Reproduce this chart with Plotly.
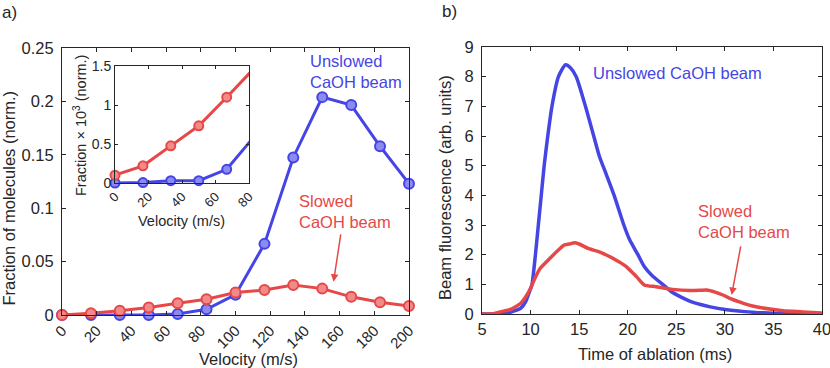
import plotly.graph_objects as go

# ---------------- data ----------------
velocity = [0, 16.7, 33.3, 50, 66.7, 83.3, 100, 116.7, 133.3, 150, 166.7, 183.3, 200]
unslowed_frac = [0, 0, 0, 0, 0.001, 0.0053, 0.019, 0.0666, 0.1475, 0.204, 0.1966, 0.158, 0.123]
slowed_frac = [0, 0.0016, 0.004, 0.007, 0.011, 0.0147, 0.021, 0.0234, 0.028, 0.0247, 0.017, 0.012, 0.0084]

inset_velocity = [0, 16.7, 33.3, 50, 66.7, 83.3]
inset_unslowed = [0.0, 0.005, 0.03, 0.03, 0.176, 0.6]
inset_slowed = [0.1, 0.22, 0.476, 0.733, 1.10, 1.475]

time_unslowed = [5, 6, 7, 8, 8.5, 9, 9.5, 10, 10.15, 10.5, 10.8, 11.1, 11.4, 11.77, 12.2, 12.87,
                 13.6, 14.1, 14.7, 15.65, 16.5, 17.1, 17.8, 18.6, 19.6, 20.2, 21.05, 21.7, 22.5,
                 23.6, 24.5, 25.5, 26.5, 27.5, 28.5, 30, 32, 34, 36, 38, 40]
fluor_unslowed = [0, 0, 0.02, 0.07, 0.12, 0.2, 0.42, 0.85, 1.0, 2.0, 3.0, 4.0, 5.0, 6.0, 7.0, 8.0,
                  8.4, 8.3, 8.0, 7.0, 6.0, 5.3, 4.7, 4.0, 3.0, 2.5, 2.0, 1.6, 1.3,
                  1.0, 0.75, 0.57, 0.42, 0.32, 0.24, 0.15, 0.08, 0.04, 0.02, 0.01, 0]

time_slowed = [5, 6, 7, 8, 8.5, 9, 9.5, 10, 10.5, 11, 12, 13, 13.5, 14, 14.5, 15, 16, 17, 17.8,
               19, 19.85, 20.9, 21.7, 22.9, 24.6, 26.4, 27.5, 28.1, 29, 29.8, 30.5, 31.5, 32.5,
               33.6, 35, 36, 38, 40]
fluor_slowed = [0, 0, 0.08, 0.16, 0.25, 0.36, 0.58, 0.87, 1.24, 1.54, 1.88, 2.2, 2.33, 2.36, 2.4,
                2.36, 2.2, 2.1, 1.99, 1.78, 1.6, 1.26, 0.98, 0.92, 0.83, 0.79, 0.8, 0.81, 0.74,
                0.64, 0.53, 0.41, 0.3, 0.22, 0.15, 0.11, 0.07, 0.03]

x_ticks_a = [0, 20, 40, 60, 80, 100, 120, 140, 160, 180, 200]
y_ticks_a = [0, 0.05, 0.1, 0.15, 0.2, 0.25]
x_ticks_inset = [0, 20, 40, 60, 80]
y_ticks_inset = [0, 0.5, 1, 1.5]
x_ticks_b = [5, 10, 15, 20, 25, 30, 35, 40]
y_ticks_b = [0, 1, 2, 3, 4, 5, 6, 7, 8, 9]

# ---------------- styles ----------------
BLUE = "#4545E5"
BLUE_FILL = "#8A8AF0"
RED = "#E64848"
RED_FILL = "#F28A8A"
AXC = "#262626"
FONT = "Liberation Sans, Arial, sans-serif"
W, H = 830, 368

fig = go.Figure()

# panel a main
fig.add_trace(go.Scatter(x=velocity, y=unslowed_frac, mode="lines+markers",
                         line=dict(color=BLUE, width=3),
                         marker=dict(size=10, color=BLUE_FILL, line=dict(color=BLUE, width=2)),
                         cliponaxis=False, xaxis="x", yaxis="y", showlegend=False))
fig.add_trace(go.Scatter(x=velocity, y=slowed_frac, mode="lines+markers",
                         line=dict(color=RED, width=3),
                         marker=dict(size=10, color=RED_FILL, line=dict(color=RED, width=2)),
                         cliponaxis=False, xaxis="x", yaxis="y", showlegend=False))

# inset (lines clipped at axis, markers not)
fig.add_trace(go.Scatter(x=inset_velocity, y=inset_unslowed, mode="lines",
                         line=dict(color=BLUE, width=3), xaxis="x2", yaxis="y2", showlegend=False))
fig.add_trace(go.Scatter(x=inset_velocity[:5], y=inset_unslowed[:5], mode="markers",
                         marker=dict(size=9, color=BLUE_FILL, line=dict(color=BLUE, width=2)),
                         cliponaxis=False, xaxis="x2", yaxis="y2", showlegend=False))
fig.add_trace(go.Scatter(x=inset_velocity, y=inset_slowed, mode="lines",
                         line=dict(color=RED, width=3), xaxis="x2", yaxis="y2", showlegend=False))
fig.add_trace(go.Scatter(x=inset_velocity[:5], y=inset_slowed[:5], mode="markers",
                         marker=dict(size=9, color=RED_FILL, line=dict(color=RED, width=2)),
                         cliponaxis=False, xaxis="x2", yaxis="y2", showlegend=False))

# panel b
fig.add_trace(go.Scatter(x=time_unslowed, y=fluor_unslowed, mode="lines",
                         line=dict(color=BLUE, width=3.5, shape="spline", smoothing=0.6),
                         xaxis="x3", yaxis="y3", showlegend=False))
fig.add_trace(go.Scatter(x=time_slowed, y=fluor_slowed, mode="lines",
                         line=dict(color=RED, width=3.5, shape="spline", smoothing=0.6),
                         xaxis="x3", yaxis="y3", showlegend=False))


def ax(domain, rng, ticks, anchor, size=16.5, angle=0, ticklen=4, standoff=None):
    d = dict(domain=domain, range=rng, tickmode="array", tickvals=ticks,
             showline=True, linecolor=AXC, linewidth=1, mirror="allticks",
             ticks="inside", ticklen=ticklen, tickcolor=AXC, tickwidth=1,
             showgrid=False, zeroline=False, anchor=anchor, tickangle=angle,
             automargin=False, ticklabeloverflow="allow",
             tickfont=dict(family=FONT, size=size, color=AXC))
    if standoff is not None:
        d["ticklabelstandoff"] = standoff
    return d


def px(xp):
    return xp / W


def py(yp):
    return 1 - yp / H


fig.update_layout(
    width=W, height=H, margin=dict(l=0, r=0, t=0, b=0, pad=0, autoexpand=False),
    paper_bgcolor="white", plot_bgcolor="white",
    font=dict(family=FONT, color=AXC),
    xaxis=ax([px(62), px(409)], [0, 200], x_ticks_a, "y", size=15, angle=-45),
    yaxis=ax([py(315), py(48)], [0, 0.25], y_ticks_a, "x", standoff=4),
    xaxis2=ax([px(115), px(249)], [0, 80], x_ticks_inset, "y2", size=13, angle=-45, ticklen=3),
    yaxis2=ax([py(183), py(66)], [0, 1.5], y_ticks_inset, "x2", size=14, ticklen=3),
    xaxis3=ax([px(482), px(822)], [5, 40], x_ticks_b, "y3"),
    yaxis3=ax([py(314), py(47)], [0, 9], y_ticks_b, "x3", standoff=4),
)

ann = []


def txt(text, x, y, size=16.5, color=AXC, xanchor="center", yanchor="middle", angle=0, align="center"):
    ann.append(dict(text=text, x=x, y=y, xref="paper", yref="paper", showarrow=False,
                    xanchor=xanchor, yanchor=yanchor, textangle=angle, align=align,
                    font=dict(family=FONT, size=size, color=color)))


txt("a)", px(0), py(1), size=17, xanchor="left", yanchor="top")
txt("b)", px(440), py(0), size=17, xanchor="left", yanchor="top")
txt("Fraction of molecules (norm.)", px(8.5), py(198), angle=-90)
txt("Velocity (m/s)", px(248), py(359))
txt("Fraction \u00d7 10<sup>3</sup> (norm.)", px(80), py(126), size=14.5, angle=-90)
txt("Velocity (m/s)", px(181), py(221), size=14.5)
txt("Beam fluorescence (arb. units)", px(445), py(188), angle=-90)
txt("Time of ablation (ms)", px(655), py(354))
txt("Unslowed<br>CaOH beam", px(308), py(71), color=BLUE, xanchor="left", align="left")
txt("Slowed<br>CaOH beam", px(297), py(211), color=RED, xanchor="left", align="left")
txt("Unslowed CaOH beam", px(590.5), py(73.5), color=BLUE, xanchor="left", align="left")
txt("Slowed<br>CaOH beam", px(696), py(221.5), color=RED, xanchor="left", align="left")

# arrows
ann.append(dict(x=156.5, y=0.0312, ax=160.8, ay=0.0768, xref="x", yref="y", axref="x", ayref="y",
                text="", showarrow=True, arrowhead=2, arrowsize=1, arrowwidth=1.5, arrowcolor=RED))
ann.append(dict(x=30.7, y=0.64, ax=31.66, ay=2.33, xref="x3", yref="y3", axref="x3", ayref="y3",
                text="", showarrow=True, arrowhead=2, arrowsize=1, arrowwidth=1.5, arrowcolor=RED))

fig.update_layout(annotations=ann)
fig.write_html("out.html", config={"displayModeBar": False},
               post_script="document.body.style.margin='0';document.body.style.overflow='hidden';")
